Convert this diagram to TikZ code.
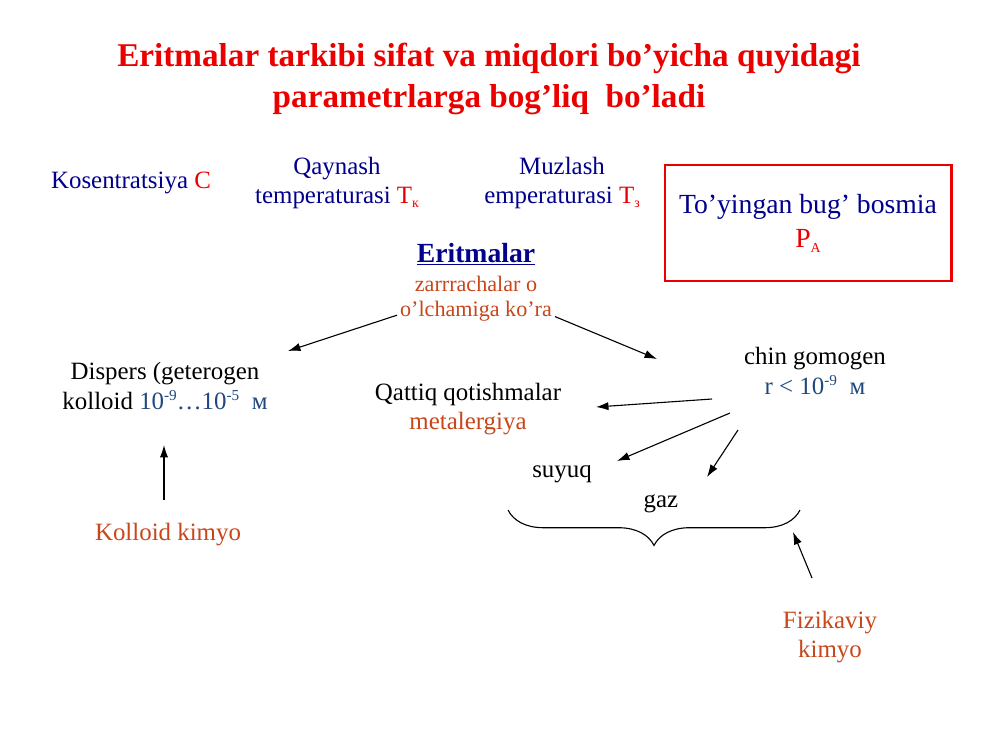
\documentclass[tikz,border=0pt]{standalone}
\usepackage{fontspec}
\setmainfont{Liberation Serif}
\usepackage{xcolor}
\usetikzlibrary{arrows,arrows.meta,decorations.pathreplacing}

\definecolor{titlered}{RGB}{235,0,0}
\definecolor{darkblue}{RGB}{0,0,140}
\definecolor{numblue}{RGB}{31,73,125}
\definecolor{rust}{RGB}{200,70,25}

\newcommand{\lowidx}[1]{\raisebox{-0.35ex}{\fontsize{10}{10}\selectfont #1}}
\newcommand{\highidx}[1]{\raisebox{0.75ex}{\fontsize{11}{11}\selectfont #1}}

\begin{document}
\begin{tikzpicture}[>={Latex[length=9pt,width=6pt]}, x=0.0254cm, y=-0.0254cm,
	txt/.style={inner sep=0pt, align=center, font=\fontsize{18}{21.6}\selectfont},
	small/.style={inner sep=0pt, align=center, font=\fontsize{16}{19}\selectfont},
	arr/.style={->, line width=0.8pt}]
	\useasboundingbox (0,0) rectangle (1000,750);
	% title
	\node [inner sep=0pt, align=center, text=titlered, font=\fontsize{24}{30}\selectfont\bfseries] (title) at (489,79)
		{Eritmalar tarkibi sifat va miqdori bo’yicha quyidagi\\parametrlarga bog’liq\ \ bo’ladi};
	% parameters
	\node [txt, text=darkblue] (konsentr) at (131,183) {Kosentratsiya \textcolor{titlered}{C}};
	\node [txt, text=darkblue] (qaynash) at (337,183) {Qaynash\\temperaturasi \textcolor{titlered}{T\lowidx{к}}};
	\node [txt, text=darkblue] (muzlash) at (562,183) {Muzlash\\emperaturasi \textcolor{titlered}{T\lowidx{з}}};
	\node [draw=titlered, line width=1.5pt, minimum width=7.29cm, minimum height=2.95cm, align=center, text=darkblue,
		font=\fontsize{20}{25}\selectfont] (bosim) at (808,223)
		{To’yingan bug’ bosmia\\\textcolor{titlered}{P\lowidx{A}}};
	% centre
	\node [inner sep=0pt, text=darkblue, font=\fontsize{20}{24}\selectfont\bfseries] (eritmalar) at (476,254) {\underline{Eritmalar}};
	\node [small, text=rust] (zarra) at (476,284) {zarrrachalar o};
	\node [small, text=rust] (olcham) at (476,311) {o’lchamiga ko’ra};
	% branches
	\node [txt] (dispers) at (165,386) {Dispers (geterogen\\kolloid \textcolor{numblue}{10\highidx{-9}…10\highidx{-5}\ \ м}};
	\node [txt, text=rust] (kolloid) at (168,535) {Kolloid kimyo};
	\node [txt] (gomogen) at (815,371) {chin gomogen\\\textcolor{numblue}{r < 10\highidx{-9}\ \ м}};
	\node [txt] (qattiq) at (468,409) {Qattiq qotishmalar\\\textcolor{rust}{metalergiya}};
	\node [txt] (suyuq) at (562,474) {suyuq};
	\node [txt] (gaz) at (661,504) {gaz};
	\node [txt, text=rust] (fizik) at (830,637) {Fizikaviy\\kimyo};
	% arrow ends
	\coordinate (dispersTop) at (288,351);
	\coordinate (gomogenTop) at (657,359);
	\coordinate (g1) at (712,399);
	\coordinate (g2) at (730,413);
	\coordinate (g3) at (738,430);
	\coordinate (qattiqEnd) at (596,407);
	\coordinate (suyuqEnd) at (617,461);
	\coordinate (gazEnd) at (707,477);
	\coordinate (kolloidTop) at (164,500);
	\coordinate (dispersBot) at (164,445);
	\coordinate (fizikTop) at (812,578);
	\coordinate (braceEnd) at (793,532);
	\coordinate (braceL) at (508,510);
	\coordinate (braceR) at (800,510);
	\draw [arr] ([xshift=-2pt,yshift=-3pt]olcham.west) -- (dispersTop);
	\draw [arr] ([xshift=2pt,yshift=-4pt]olcham.east) -- (gomogenTop);
	\draw [arr] (g1) -- (qattiqEnd);
	\draw [arr] (g2) -- (suyuqEnd);
	\draw [arr] (g3) -- (gazEnd);
	\draw [arr] (kolloidTop) -- (dispersBot);
	\draw [arr] (fizikTop) -- (braceEnd);
	\draw [line width=0.8pt, decorate, decoration={brace, mirror, amplitude=0.9cm}] (braceL) -- (braceR);
\end{tikzpicture}
\end{document}
